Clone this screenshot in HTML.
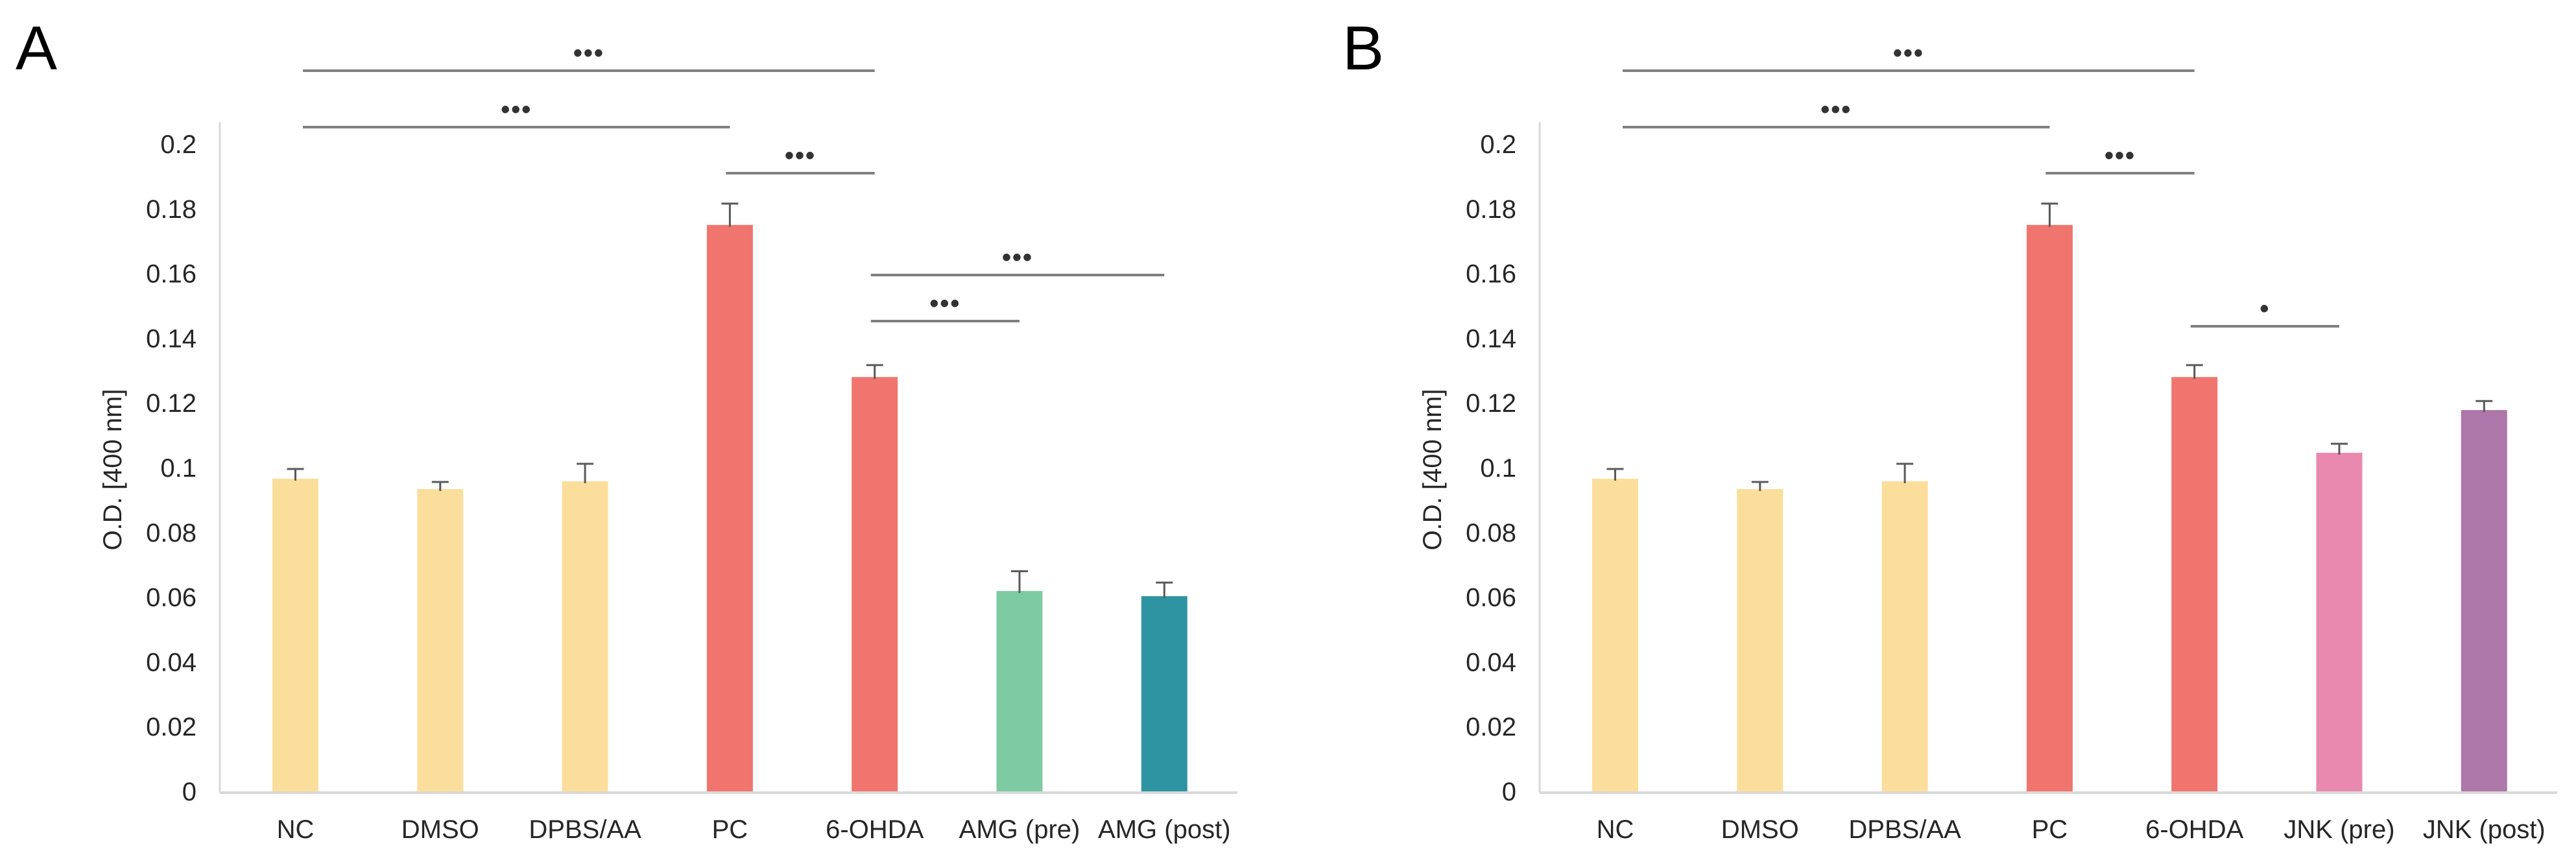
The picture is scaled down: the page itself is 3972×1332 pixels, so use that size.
<!DOCTYPE html>
<html><head><meta charset="utf-8"><style>
html,body{margin:0;padding:0;background:#fff;}
svg{display:block;font-family:"Liberation Sans",sans-serif;}
</style></head><body>
<svg id="chart" width="3972" height="1332" viewBox="0 0 3972 1332" xmlns="http://www.w3.org/2000/svg"></svg>
<script>
const catsA = ["NC","DMSO","DPBS/AA","PC","6-OHDA","AMG (pre)","AMG (post)"];
const valsA = [0.0966,0.0934,0.0958,0.175,0.128,0.0619,0.0603];
const errsA = [0.0030,0.0022,0.0054,0.0066,0.0037,0.0061,0.0042];
const colorsA = ["#FCDE9C","#FCDE9C","#FCDE9C","#F0756F","#F0756F","#7ECBA3","#2F94A1"];
const catsB = ["NC","DMSO","DPBS/AA","PC","6-OHDA","JNK (pre)","JNK (post)"];
const valsB = [0.0966,0.0934,0.0958,0.175,0.128,0.1046,0.1178];
const errsB = [0.0030,0.0022,0.0054,0.0066,0.0037,0.0028,0.0028];
const colorsB = ["#FCDE9C","#FCDE9C","#FCDE9C","#F0756F","#F0756F","#E989AF","#AD77AA"];
const ticks = [0,0.02,0.04,0.06,0.08,0.1,0.12,0.14,0.16,0.18,0.2];
const tickLabels = ["0","0.02","0.04","0.06","0.08","0.1","0.12","0.14","0.16","0.18","0.2"];
// significance brackets: [fromIndex, toIndex, y-level(px), label]
const sigA = [[0,4,109,"***"],[0,3,196,"***"],[3,4,267,"***"],[4,6,424,"***"],[4,5,495,"***"]];
const sigB = [[0,4,109,"***"],[0,3,196,"***"],[3,4,267,"***"],[4,5,503,"*"]];

const svg = document.getElementById('chart');
const NS = "http://www.w3.org/2000/svg";
function mk(tag, attrs, parent){const e=document.createElementNS(NS,tag);for(const k in attrs)e.setAttribute(k,attrs[k]);(parent||svg).appendChild(e);return e;}
const Y0=1220, PX=4990;
function yS(v){return Y0 - v*PX;}

function panel(off, letter, cats, vals, errs, cols, sigs, letterX){
  const axX=339+off, step=223.3, first=455.5+off, bw=71;
  function xS(i){return first+i*step;}
  const g=mk('g',{});
  
  
  const L=mk('text',{x:letterX,y:107,'font-size':96,fill:'#000'},g);
  L.textContent=letter;
  
  
  const ya=mk('line',{x1:axX,y1:188,x2:axX,y2:Y0+2,stroke:'#D9D9D9','stroke-width':3},g);
  
  
  const xa=mk('line',{x1:axX,y1:Y0+2,x2:1908+off,y2:Y0+2,stroke:'#D9D9D9','stroke-width':4},g);
  
  
  ticks.forEach((t,i)=>{
    const tx=mk('text',{x:axX-36,y:yS(t)+14,'font-size':40,'text-anchor':'end',fill:'#262626'},g);
    tx.textContent=tickLabels[i];
    
    
  });
  const yt=mk('text',{x:0,y:0,'font-size':40,'text-anchor':'middle',fill:'#262626',transform:`translate(${off+187},724) rotate(-90)`},g);
  yt.textContent='O.D. [400 nm]';
  
  
  cats.forEach((c,i)=>{
    const cx=xS(i);
    const r=mk('rect',{x:cx-bw/2,y:yS(vals[i]),width:bw,height:Y0-yS(vals[i]),fill:cols[i]},g);
    
    
    const et=yS(vals[i]+errs[i]);
    const e1=mk('line',{x1:cx,y1:yS(vals[i])+3,x2:cx,y2:et,stroke:'#595959','stroke-width':3},g);
    
    
    const e2=mk('line',{x1:cx-13,y1:et,x2:cx+13,y2:et,stroke:'#595959','stroke-width':3},g);
    
    
    const lb=mk('text',{x:cx,y:1292,'font-size':40,'text-anchor':'middle',fill:'#262626'},g);
    lb.textContent=c;
    
    
  });
  sigs.forEach(s=>{
    const x1=(s[0]===0?467+off:xS(s[0])-6), x2=xS(s[1]);
    const ln=mk('line',{x1:x1,y1:s[2],x2:x2,y2:s[2],stroke:'#808080','stroke-width':4},g);
    
    
    const st=mk('text',{x:(x1+x2)/2,y:s[2]-14,'font-size':40,'font-weight':'bold','text-anchor':'middle',fill:'#333','letter-spacing':2},g);
    st.textContent=s[3].replace(/\*/g,'•');
    
    
  });
}
panel(0,'A',catsA,valsA,errsA,colorsA,sigA,24);
panel(2035,'B',catsB,valsB,errsB,colorsB,sigB,2070);
</script>
</body></html>
